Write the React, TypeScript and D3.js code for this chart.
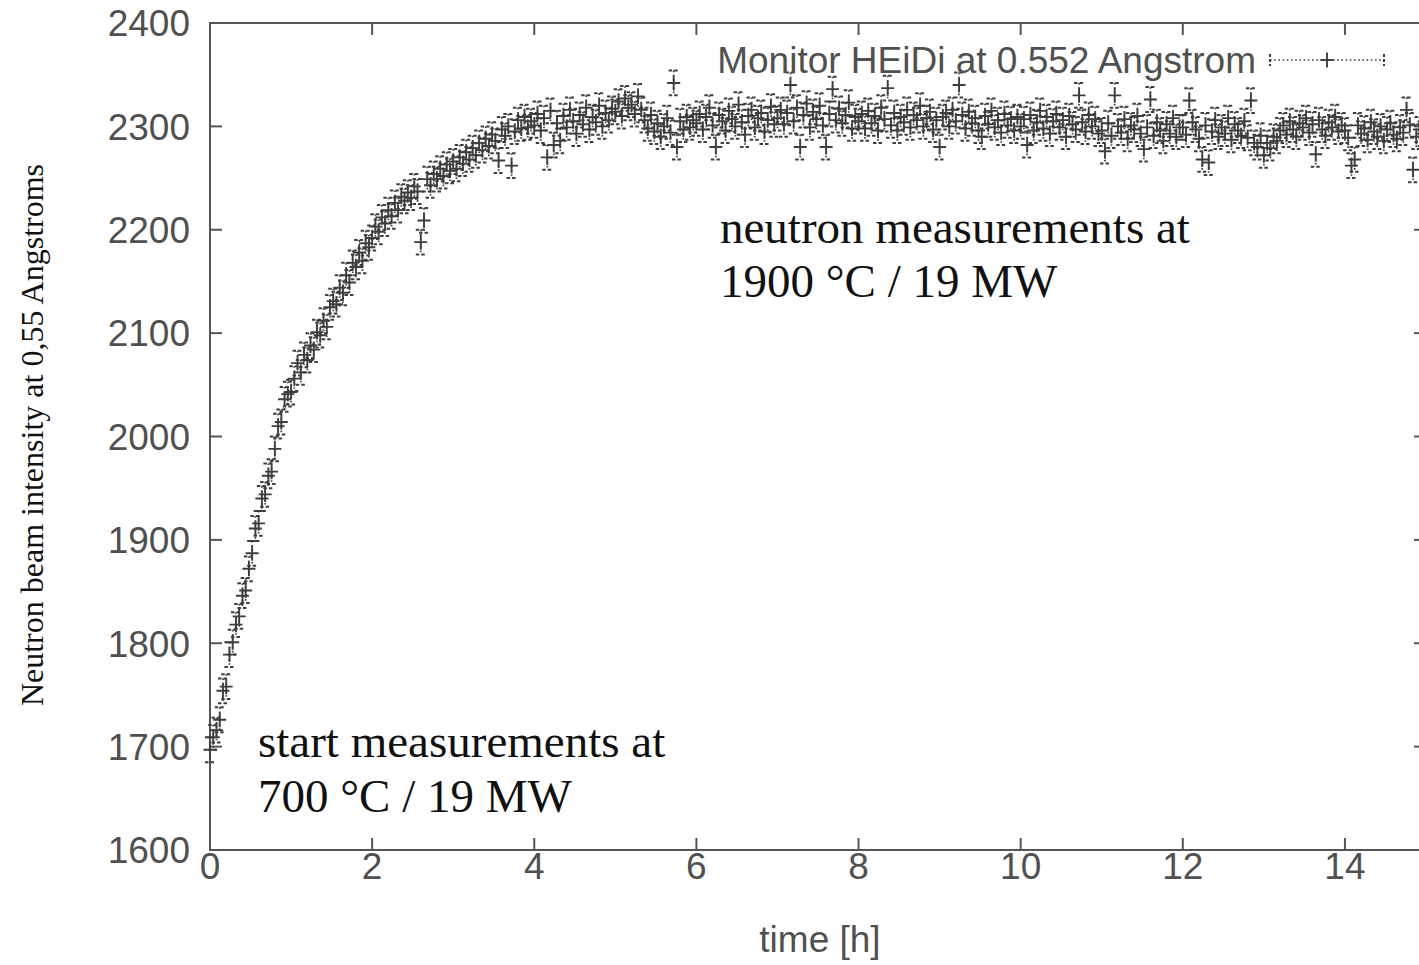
import * as d3 from "d3";

// monitor counts, one list per hour, a reading every 0.04 h
const STEP_H = 0.04;
const hour0 = [1697, 1709, 1716, 1726, 1754, 1758, 1789, 1801, 1818, 1826, 1846, 1851, 1872, 1887, 1911, 1916, 1940, 1944, 1962, 1966, 1988, 2010, 2014, 2036, 2041];
const hour1 = [2043, 2056, 2071, 2062, 2079, 2074, 2088, 2084, 2101, 2098, 2112, 2106, 2125, 2131, 2128, 2144, 2139, 2156, 2149, 2168, 2164, 2178, 2170, 2187, 2183];
const hour2 = [2192, 2203, 2198, 2212, 2206, 2219, 2213, 2226, 2219, 2232, 2228, 2236, 2231, 2242, 2237, 2188, 2209, 2249, 2243, 2254, 2249, 2259, 2252, 2263, 2257];
const hour3 = [2266, 2259, 2270, 2264, 2275, 2268, 2279, 2272, 2284, 2277, 2288, 2281, 2292, 2286, 2267, 2297, 2291, 2300, 2262, 2295, 2306, 2298, 2309, 2299, 2305];
const hour4 = [2301, 2312, 2296, 2308, 2270, 2315, 2282, 2303, 2286, 2310, 2299, 2316, 2305, 2293, 2311, 2302, 2318, 2297, 2309, 2304, 2320, 2300, 2313, 2306, 2317];
const hour5 = [2314, 2324, 2310, 2327, 2318, 2321, 2312, 2329, 2316, 2306, 2298, 2311, 2295, 2303, 2290, 2300, 2308, 2294, 2342, 2280, 2305, 2297, 2309, 2299, 2306];
const hour6 = [2303, 2312, 2297, 2309, 2318, 2301, 2280, 2311, 2305, 2296, 2315, 2307, 2300, 2321, 2304, 2292, 2310, 2316, 2299, 2308, 2313, 2295, 2306, 2319, 2302];
const hour7 = [2308, 2316, 2302, 2313, 2340, 2305, 2318, 2280, 2311, 2322, 2299, 2314, 2307, 2320, 2301, 2280, 2312, 2336, 2306, 2317, 2303, 2311, 2323, 2298, 2309];
const hour8 = [2305, 2312, 2298, 2315, 2303, 2310, 2296, 2318, 2307, 2337, 2301, 2313, 2296, 2309, 2304, 2316, 2299, 2311, 2306, 2320, 2300, 2308, 2314, 2297, 2306];
const hour9 = [2280, 2309, 2313, 2300, 2316, 2305, 2340, 2311, 2298, 2314, 2303, 2308, 2296, 2290, 2310, 2302, 2315, 2299, 2306, 2294, 2312, 2301, 2307, 2296, 2309];
const hour10 = [2300, 2307, 2282, 2311, 2296, 2304, 2315, 2298, 2309, 2293, 2305, 2312, 2299, 2306, 2290, 2310, 2302, 2297, 2330, 2304, 2295, 2311, 2300, 2307, 2293];
const hour11 = [2296, 2276, 2303, 2291, 2330, 2300, 2294, 2307, 2288, 2301, 2297, 2310, 2293, 2278, 2299, 2326, 2291, 2304, 2296, 2286, 2302, 2293, 2308, 2290, 2299];
const hour12 = [2299, 2292, 2325, 2304, 2297, 2288, 2268, 2301, 2265, 2295, 2306, 2290, 2299, 2293, 2308, 2287, 2302, 2296, 2291, 2305, 2289, 2325, 2284, 2280, 2291];
const hour13 = [2272, 2284, 2279, 2290, 2286, 2296, 2301, 2292, 2305, 2297, 2290, 2303, 2299, 2308, 2294, 2302, 2273, 2306, 2297, 2291, 2304, 2299, 2309, 2295, 2301];
const hour14 = [2296, 2289, 2262, 2268, 2301, 2293, 2298, 2287, 2304, 2295, 2290, 2300, 2286, 2297, 2303, 2292, 2288, 2299, 2294, 2316, 2301, 2258, 2290, 2297, 2293];
const ERROR_HALF = 12;

const xTicks = [0, 2, 4, 6, 8, 10, 12, 14];
const yTicks = [1600, 1700, 1800, 1900, 2000, 2100, 2200, 2300, 2400];

const W = 1419;
const H = 965;
const INK = "#3e3e3e";
const SANS = "'Liberation Sans', Arial, Helvetica, sans-serif";
const SERIF = "'Liberation Serif', 'Times New Roman', serif";

export default function App() {
  const x = d3.scaleLinear().domain([0, 15]).range([210, 1426]);
  const y = d3.scaleLinear().domain([1600, 2400]).range([850, 23]);
  const [x0, x1] = x.range();
  const [y0, y1] = y.range();

  const hours = [hour0, hour1, hour2, hour3, hour4, hour5, hour6, hour7, hour8, hour9, hour10, hour11, hour12, hour13, hour14];
  const points = hours.flatMap((vals, h) => vals.map((v, i) => ({ t: h + i * STEP_H, v })));

  const bars = d3.path();
  const caps = d3.path();
  const plus = d3.path();
  points.forEach(({ t, v }) => {
    const px = x(t);
    const top = y(v + ERROR_HALF);
    const bot = y(v - ERROR_HALF);
    bars.moveTo(px, top);
    bars.lineTo(px, bot);
    caps.moveTo(px - 5, top);
    caps.lineTo(px + 5, top);
    caps.moveTo(px - 5, bot);
    caps.lineTo(px + 5, bot);
    plus.moveTo(px - 6.5, y(v));
    plus.lineTo(px + 6.5, y(v));
    plus.moveTo(px, y(v) - 7.5);
    plus.lineTo(px, y(v) + 7.5);
  });

  // legend sample
  const ly = 60;
  const lx0 = 1270;
  const lx1 = 1384;
  const lmid = (lx0 + lx1) / 2;

  return (
    <svg width={W} height={H} style={{ position: "absolute", left: 0, top: 0, background: "#fff" }}>
      <rect width={W} height={H} fill="#fff" />

      {/* frame */}
      <rect x={x0} y={y1} width={x1 - x0} height={y0 - y1} fill="none" stroke="#555" strokeWidth={2} />

      {yTicks.map((v) => (
        <g key={v}>
          <line x1={x0} x2={x0 + 12} y1={y(v)} y2={y(v)} stroke="#555" strokeWidth={2} />
          <line x1={x1} x2={x1 - 12} y1={y(v)} y2={y(v)} stroke="#555" strokeWidth={2} />
          <text x={190} y={y(v)} dy="0.36em" textAnchor="end" fontFamily={SANS} fontSize={37} fill="#505050">
            {v}
          </text>
        </g>
      ))}

      {xTicks.map((t) => (
        <g key={t}>
          <line x1={x(t)} x2={x(t)} y1={y0} y2={y0 - 12} stroke="#555" strokeWidth={2} />
          <line x1={x(t)} x2={x(t)} y1={y1} y2={y1 + 12} stroke="#555" strokeWidth={2} />
          <text x={x(t)} y={879} textAnchor="middle" fontFamily={SANS} fontSize={37} fill="#505050">
            {t}
          </text>
        </g>
      ))}

      {/* data */}
      <path d={bars.toString()} fill="none" stroke={INK} strokeWidth={1.7} strokeDasharray="1.6,2.6" />
      <path d={caps.toString()} fill="none" stroke={INK} strokeWidth={2} strokeDasharray="3.5,2" />
      <path d={plus.toString()} fill="none" stroke={INK} strokeWidth={1.9} />

      {/* legend */}
      <text x={1256} y={73} textAnchor="end" fontFamily={SANS} fontSize={37} fill="#505050">
        Monitor HEiDi at 0.552 Angstrom
      </text>
      <line x1={lx0} x2={lx1} y1={ly} y2={ly} stroke={INK} strokeWidth={1.7} strokeDasharray="1.6,2.6" />
      <line x1={lx0} x2={lx0} y1={ly - 6} y2={ly + 6} stroke={INK} strokeWidth={2} strokeDasharray="3,2" />
      <line x1={lx1} x2={lx1} y1={ly - 6} y2={ly + 6} stroke={INK} strokeWidth={2} strokeDasharray="3,2" />
      <line x1={lmid - 6.5} x2={lmid + 6.5} y1={ly} y2={ly} stroke={INK} strokeWidth={1.9} />
      <line x1={lmid} x2={lmid} y1={ly - 7.5} y2={ly + 7.5} stroke={INK} strokeWidth={1.9} />

      {/* axis titles */}
      <text x={820} y={952} textAnchor="middle" fontFamily={SANS} fontSize={37} fill="#505050">
        time [h]
      </text>
      <text
        transform="translate(43,435) rotate(-90)"
        textAnchor="middle"
        fontFamily={SERIF}
        fontSize={32}
        fill="#111"
      >
        Neutron beam intensity at 0,55 Angstroms
      </text>

      {/* annotations */}
      <text fontFamily={SERIF} fontSize={47} fill="#111">
        <tspan x={720} y={243}>neutron measurements at</tspan>
        <tspan x={720} y={297}>1900 °C / 19 MW</tspan>
      </text>
      <text fontFamily={SERIF} fontSize={47} fill="#111">
        <tspan x={258} y={757}>start measurements at</tspan>
        <tspan x={258} y={812}>700 °C / 19 MW</tspan>
      </text>
    </svg>
  );
}
